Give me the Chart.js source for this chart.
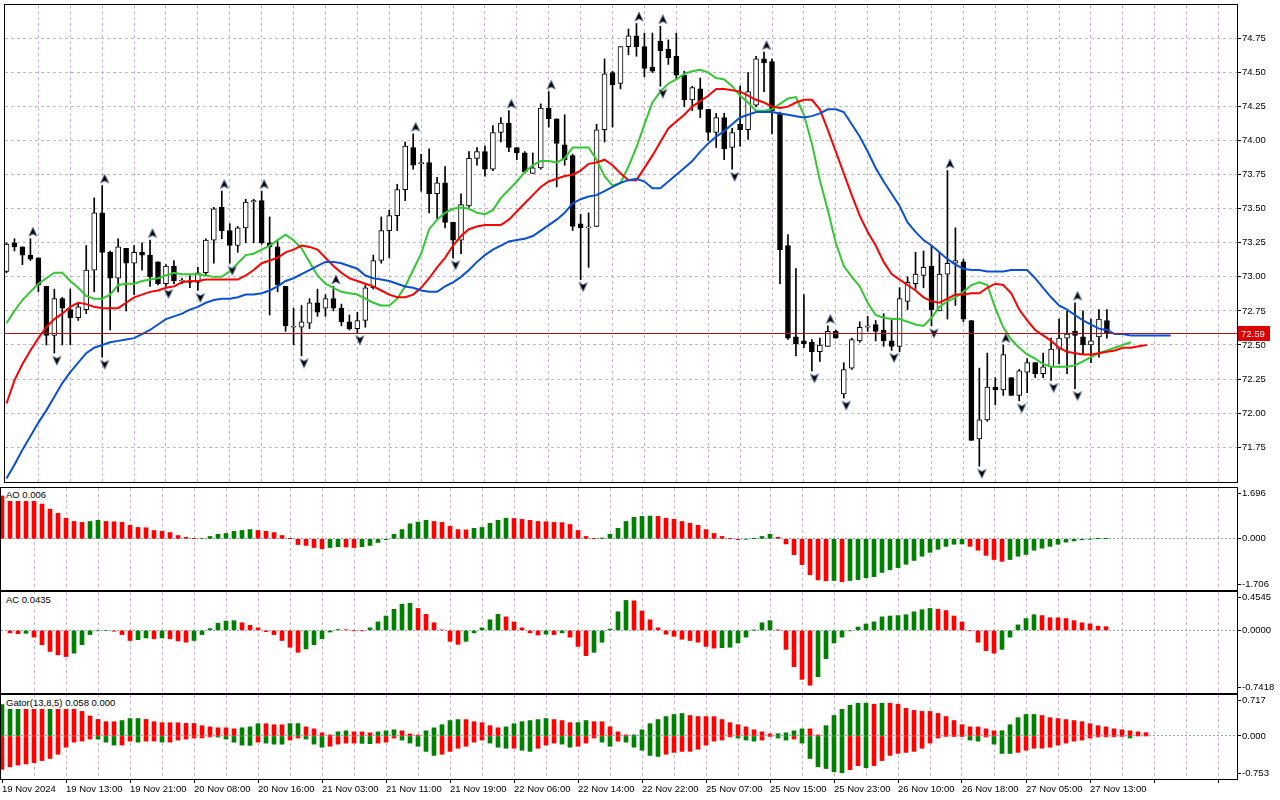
<!DOCTYPE html>
<html>
<head>
<meta charset="utf-8">
<script src="https://cdn.jsdelivr.net/npm/chart.js@4.4.1/dist/chart.umd.min.js"></script>
<style>
  html, body { margin: 0; padding: 0; background: #fff; }
  #wrap { position: relative; width: 1280px; height: 800px; overflow: hidden; }
  canvas { position: absolute; left: 0; }
  .tag { position: absolute; left: 5px; font: 9.5px 'Liberation Sans', sans-serif; line-height: 12px;
         background: #fff; color: #000; padding: 0 1px; white-space: nowrap; }
</style>
</head>
<body>
<div id="wrap">
  <canvas id="cMain" width="1280" height="487" style="top:0"></canvas>
  <canvas id="cAO" width="1280" height="104" style="top:487px"></canvas>
  <canvas id="cAC" width="1280" height="103" style="top:591px"></canvas>
  <canvas id="cGator" width="1280" height="106" style="top:694px"></canvas>
  <div class="tag" id="tagAO" style="top:489px"></div>
  <div class="tag" id="tagAC" style="top:594px"></div>
  <div class="tag" id="tagGator" style="top:697px"></div>
</div>
<script>
// H1 candles, 19 Nov 2024 -> 27 Nov 2024
const opens = [73.04,73.25,73.22,73.16,73.14,72.93,72.57,72.84,72.76,72.70,72.76,73.05,73.47,73.18,72.99,73.21,73.10,73.18,73.16,73.11,
  72.95,73.08,72.97,72.97,72.96,73.03,73.27,73.51,73.34,73.23,73.36,73.55,73.56,73.25,73.22,72.93,72.63,72.63,72.66,72.81,
  72.77,72.84,72.77,72.67,72.62,72.68,72.92,73.12,73.34,73.45,73.64,73.95,73.83,73.84,73.61,73.69,73.40,73.27,73.52,73.87,
  73.92,73.79,74.06,74.13,73.95,73.91,73.76,73.80,74.24,74.16,73.97,73.89,73.39,73.36,73.37,74.08,74.50,74.42,74.69,74.77,
  74.69,74.54,74.73,74.67,74.62,74.48,74.30,74.38,74.23,74.06,74.17,73.95,74.12,74.08,74.26,74.60,74.58,74.20,73.23,72.56,
  72.53,72.52,72.45,72.49,72.60,72.14,72.33,72.53,72.63,72.65,72.61,72.53,72.49,72.82,72.95,73.01,73.08,72.75,73.02,73.10,
  73.11,72.68,71.81,71.95,72.19,72.17,72.26,72.13,72.30,72.37,72.29,72.34,72.47,72.55,72.60,72.56,72.50,72.56,72.68];
const highs = [73.25,73.28,73.22,73.28,73.14,72.93,72.91,72.85,72.91,72.80,73.23,73.58,73.67,73.19,73.28,73.21,73.23,73.25,73.27,73.11,
  73.09,73.12,72.99,73.01,73.07,73.28,73.51,73.63,73.39,73.37,73.57,73.57,73.63,73.44,73.26,72.93,72.77,72.79,72.84,72.91,
  72.87,72.93,72.80,72.72,72.74,72.94,73.16,73.44,73.49,73.68,73.99,74.05,73.90,73.94,73.73,73.81,73.40,73.61,73.92,73.95,
  73.96,74.11,74.17,74.22,73.95,73.92,73.91,74.27,74.36,74.16,74.19,73.90,73.46,73.47,74.12,74.60,74.51,74.69,74.82,74.86,
  74.79,74.79,74.84,74.74,74.79,74.51,74.40,74.46,74.23,74.20,74.20,74.09,74.40,74.50,74.62,74.65,74.60,74.21,73.31,73.06,
  72.87,72.54,72.55,72.64,72.61,72.37,72.55,72.67,72.71,72.68,72.73,72.68,72.92,73.00,73.18,73.19,73.23,73.18,73.78,73.36,
  73.13,72.68,72.33,72.44,72.26,72.50,72.26,72.32,72.40,72.37,72.44,72.55,72.69,72.75,72.81,72.75,72.69,72.76,72.76];
const lows = [73.03,73.19,73.09,73.12,72.89,72.50,72.44,72.50,72.50,72.68,72.73,72.89,72.41,72.61,72.89,72.75,72.87,73.05,72.93,72.94,
  72.93,72.95,72.95,72.92,72.90,73.01,73.10,73.28,73.10,73.18,73.25,73.25,73.24,72.72,72.89,72.60,72.50,72.42,72.62,72.71,
  72.71,72.75,72.64,72.61,72.59,72.63,72.91,73.10,73.14,73.34,73.56,73.79,73.63,73.47,73.43,73.36,73.14,73.17,73.51,73.82,
  73.74,73.78,73.99,73.92,73.86,73.76,73.76,73.79,74.10,73.66,73.82,73.34,72.98,73.07,73.37,73.99,74.10,74.38,74.63,74.62,
  74.47,74.50,74.40,74.56,74.45,74.25,74.22,74.17,74.00,73.95,73.86,73.79,73.96,74.01,74.25,74.36,74.05,72.95,72.54,72.42,
  72.48,72.31,72.38,72.49,72.55,72.11,72.32,72.52,72.60,72.53,72.49,72.46,72.45,72.76,72.91,72.92,72.64,72.75,72.69,72.79,
  72.67,71.80,71.61,71.94,72.06,72.13,72.13,72.09,72.15,72.26,72.26,72.24,72.36,72.29,72.18,72.43,72.37,72.41,72.55];
const closes = [73.24,73.22,73.16,73.13,72.94,72.57,72.84,72.77,72.70,72.78,73.05,73.47,73.18,72.99,73.22,73.10,73.18,73.16,73.00,72.95,
  73.08,72.97,72.97,72.96,73.03,73.27,73.50,73.34,73.23,73.36,73.55,73.56,73.25,73.22,72.94,72.64,72.63,72.67,72.81,72.74,
  72.84,72.77,72.67,72.62,72.68,72.92,73.12,73.34,73.45,73.64,73.96,73.82,73.84,73.61,73.69,73.40,73.27,73.53,73.87,73.92,
  73.79,74.06,74.13,73.95,73.91,73.77,73.80,74.24,74.16,73.98,73.86,73.37,73.36,73.36,74.08,74.49,74.41,74.69,74.77,74.69,
  74.53,74.51,74.66,74.61,74.48,74.30,74.39,74.23,74.06,74.17,73.94,74.06,74.08,74.36,74.60,74.57,74.22,73.20,72.55,72.51,
  72.51,72.45,72.50,72.60,72.55,72.32,72.54,72.63,72.64,72.60,72.53,72.49,72.84,72.96,73.02,73.07,72.76,73.02,73.10,73.12,
  72.69,71.80,71.95,72.19,72.17,72.43,72.13,72.31,72.37,72.29,72.34,72.47,72.55,72.58,72.57,72.50,72.53,72.69,72.59];

// Alligator (already shifted forward: jaw +8, teeth +5, lips +3)
const jawLine = [71.52,71.62,71.73,71.83,71.93,72.02,72.12,72.22,72.30,72.37,72.44,72.48,72.50,72.52,72.53,72.54,72.55,72.58,72.61,72.65,
  72.69,72.71,72.73,72.76,72.78,72.81,72.83,72.84,72.84,72.85,72.87,72.87,72.88,72.90,72.93,72.97,72.99,73.02,73.05,73.08,
  73.11,73.11,73.10,73.08,73.06,73.01,72.99,72.98,72.97,72.95,72.93,72.92,72.90,72.89,72.89,72.93,72.96,73.00,73.05,73.11,
  73.16,73.20,73.23,73.26,73.27,73.28,73.30,73.34,73.38,73.42,73.47,73.54,73.57,73.59,73.60,73.63,73.66,73.69,73.71,73.72,
  73.70,73.65,73.65,73.70,73.75,73.80,73.85,73.92,73.98,74.03,74.07,74.12,74.17,74.19,74.21,74.21,74.21,74.20,74.19,74.18,
  74.17,74.18,74.20,74.23,74.23,74.21,74.12,74.03,73.92,73.80,73.70,73.61,73.52,73.40,73.33,73.27,73.23,73.18,73.13,73.09,
  73.06,73.05,73.05,73.04,73.04,73.04,73.05,73.05,73.05,72.99,72.92,72.85,72.79,72.76,72.72,72.68,72.65,72.62,72.61,72.58,
  72.58,72.57,72.57,72.57,72.57,72.57,72.57];
const teethLine = [72.07,72.24,72.36,72.46,72.55,72.63,72.69,72.73,72.78,72.81,72.80,72.78,72.77,72.77,72.77,72.81,72.85,72.87,72.89,72.90,
  72.92,72.93,72.96,72.97,72.97,72.98,72.98,72.98,72.98,72.98,73.01,73.05,73.10,73.12,73.14,73.18,73.20,73.23,73.22,73.20,
  73.14,73.08,73.03,72.99,72.97,72.95,72.93,72.90,72.87,72.85,72.85,72.87,72.92,72.99,73.07,73.14,73.23,73.30,73.35,73.37,
  73.38,73.38,73.38,73.42,73.48,73.54,73.60,73.66,73.70,73.72,73.74,73.75,73.78,73.83,73.84,73.86,73.82,73.76,73.71,73.71,
  73.80,73.89,73.99,74.09,74.14,74.19,74.25,74.29,74.33,74.38,74.38,74.37,74.36,74.33,74.30,74.28,74.25,74.24,74.25,74.28,
  74.30,74.30,74.23,74.08,73.92,73.76,73.60,73.45,73.33,73.23,73.11,73.02,72.98,72.94,72.90,72.85,72.82,72.81,72.84,72.87,
  72.87,72.88,72.88,72.92,72.95,72.94,72.88,72.76,72.68,72.61,72.57,72.53,72.48,72.45,72.44,72.43,72.43,72.44,72.45,72.46,
  72.48,72.48,72.49,72.50];
const lipsLine = [72.66,72.75,72.83,72.89,72.95,72.99,73.03,73.03,72.97,72.92,72.86,72.84,72.84,72.87,72.94,72.95,72.95,72.97,72.98,72.99,
  73.01,73.03,73.02,73.02,73.02,73.01,73.00,73.00,73.04,73.10,73.16,73.17,73.20,73.23,73.27,73.31,73.27,73.21,73.11,73.01,
  72.95,72.92,72.89,72.88,72.87,72.84,72.81,72.79,72.79,72.84,72.93,73.05,73.17,73.35,73.42,73.47,73.50,73.51,73.50,73.47,
  73.46,73.49,73.58,73.64,73.70,73.77,73.82,73.85,73.85,73.84,73.87,73.95,73.95,73.95,73.86,73.74,73.67,73.69,73.81,73.95,
  74.12,74.28,74.36,74.42,74.45,74.49,74.51,74.52,74.50,74.46,74.45,74.40,74.33,74.28,74.22,74.22,74.23,74.27,74.31,74.32,
  74.19,73.98,73.71,73.49,73.25,73.08,73.00,72.93,72.81,72.72,72.70,72.69,72.69,72.67,72.65,72.64,72.70,72.78,72.82,72.85,
  72.89,72.94,72.96,72.94,72.77,72.63,72.54,72.48,72.43,72.40,72.36,72.34,72.34,72.34,72.35,72.38,72.41,72.44,72.46,72.48,
  72.50,72.52];

// Fractal bars (index into candles)
const fractalUp = [3,12,18,27,32,41,51,63,68,79,82,95,103,118,125,134];
const fractalDown = [6,12,20,24,28,37,44,56,72,82,91,101,105,111,116,122,127,131,134];

// Awesome Oscillator
const aoValues = [1.43,1.40,1.36,1.31,1.25,1.16,0.99,0.85,0.69,0.58,0.55,0.58,0.62,0.58,0.57,0.55,0.45,0.38,0.37,0.28,
  0.25,0.21,0.11,0.05,0.01,0.015,0.08,0.15,0.18,0.25,0.28,0.31,0.28,0.25,0.21,0.11,0.005,-0.19,-0.22,-0.29,
  -0.33,-0.29,-0.26,-0.27,-0.29,-0.26,-0.22,-0.12,-0.03,0.15,0.31,0.50,0.56,0.62,0.58,0.55,0.42,0.31,0.30,0.35,
  0.38,0.52,0.62,0.69,0.68,0.65,0.62,0.58,0.57,0.55,0.54,0.48,0.28,0.08,0.01,0.03,0.15,0.35,0.58,0.72,
  0.75,0.76,0.75,0.69,0.65,0.58,0.52,0.45,0.31,0.18,0.08,0.01,-0.03,-0.01,0.005,0.08,0.15,0.05,-0.17,-0.53,
  -0.86,-1.20,-1.37,-1.40,-1.39,-1.43,-1.39,-1.36,-1.30,-1.26,-1.12,-1.03,-0.96,-0.85,-0.72,-0.58,-0.45,-0.35,-0.25,-0.18,
  -0.17,-0.25,-0.38,-0.55,-0.69,-0.75,-0.69,-0.58,-0.52,-0.38,-0.31,-0.25,-0.18,-0.11,-0.07,-0.03,-0.01,0.004,0.006];

// Accelerator Oscillator
const acValues = [null,-0.03,-0.04,-0.035,-0.08,-0.17,-0.25,-0.29,-0.31,-0.27,-0.17,-0.05,-0.005,0.0,-0.01,-0.05,-0.12,-0.11,-0.09,-0.10,
  -0.09,-0.10,-0.125,-0.14,-0.12,-0.05,0.02,0.085,0.11,0.115,0.09,0.06,0.03,-0.015,-0.05,-0.12,-0.20,-0.26,-0.22,-0.17,
  -0.10,-0.02,0.01,0.008,-0.003,-0.004,0.03,0.10,0.17,0.25,0.31,0.32,0.26,0.19,0.09,0.005,-0.13,-0.165,-0.13,-0.03,
  0.03,0.125,0.19,0.16,0.10,0.03,-0.03,-0.055,-0.045,-0.05,-0.03,-0.08,-0.19,-0.30,-0.26,-0.14,0.015,0.22,0.355,0.35,
  0.23,0.125,0.03,-0.045,-0.07,-0.105,-0.12,-0.14,-0.19,-0.21,-0.205,-0.20,-0.15,-0.08,0.002,0.09,0.115,0.003,-0.225,-0.43,
  -0.58,-0.65,-0.55,-0.335,-0.15,-0.08,-0.005,0.04,0.075,0.10,0.16,0.17,0.175,0.185,0.22,0.245,0.26,0.25,0.235,0.17,
  0.10,-0.005,-0.14,-0.24,-0.27,-0.225,-0.08,0.065,0.14,0.185,0.175,0.15,0.149,0.14,0.115,0.09,0.077,0.05,0.0435];

// Gator oscillator: upper |jaw - teeth|, lower |teeth - lips|
const gatorUp = [0.55,0.57,0.58,0.575,0.57,0.56,0.565,0.54,0.50,0.47,0.43,0.35,0.29,0.25,0.249,0.27,0.305,0.306,0.29,0.25,
  0.233,0.232,0.231,0.22,0.219,0.18,0.16,0.143,0.142,0.125,0.143,0.16,0.215,0.214,0.197,0.196,0.216,0.217,0.16,0.125,
  0.054,0.018,0.072,0.09,0.072,0.071,0.054,0.072,0.09,0.108,0.09,0.036,0.018,0.09,0.143,0.197,0.27,0.287,0.286,0.25,
  0.233,0.18,0.143,0.16,0.215,0.25,0.27,0.287,0.305,0.287,0.27,0.233,0.234,0.27,0.25,0.249,0.16,0.072,0.018,0.02,
  0.108,0.215,0.287,0.34,0.376,0.394,0.358,0.34,0.339,0.338,0.287,0.233,0.197,0.16,0.108,0.072,0.036,0.04,0.054,0.09,
  0.125,0.124,0.018,0.18,0.358,0.466,0.538,0.573,0.574,0.556,0.574,0.573,0.556,0.484,0.448,0.43,0.429,0.394,0.34,0.27,
  0.197,0.16,0.159,0.125,0.09,0.091,0.197,0.32,0.376,0.377,0.358,0.32,0.305,0.287,0.27,0.25,0.215,0.18,0.16,0.125,
  0.108,0.09,0.072,0.058];
const gatorDown = [0.585,0.54,0.51,0.49,0.466,0.43,0.394,0.32,0.197,0.108,0.09,0.054,0.055,0.108,0.16,0.159,0.09,0.108,0.09,0.089,
  0.108,0.107,0.072,0.054,0.036,0.035,0.018,0.019,0.054,0.108,0.16,0.165,0.108,0.125,0.143,0.144,0.072,0.036,0.054,0.143,
  0.197,0.18,0.143,0.125,0.124,0.13,0.135,0.125,0.108,0.036,0.072,0.125,0.18,0.27,0.34,0.32,0.27,0.215,0.18,0.108,
  0.072,0.125,0.197,0.215,0.214,0.25,0.27,0.215,0.16,0.125,0.143,0.197,0.18,0.125,0.036,0.108,0.18,0.09,0.108,0.197,
  0.25,0.34,0.358,0.32,0.287,0.27,0.269,0.233,0.16,0.09,0.072,0.018,0.036,0.072,0.09,0.072,0.01,0.036,0.072,0.054,
  0.125,0.394,0.54,0.57,0.627,0.645,0.59,0.52,0.556,0.519,0.43,0.34,0.305,0.287,0.27,0.215,0.125,0.036,0.01,0.005,
  0.004,0.072,0.09,0.018,0.143,0.305,0.306,0.287,0.25,0.215,0.214,0.197,0.16,0.125,0.09,0.072,0.036,0.018,0.017,0.016,
  0.01,0.036,0.0,0.0];

// Axis labels
const priceTicks = [71.75,72.00,72.25,72.50,72.75,73.00,73.25,73.50,73.75,74.00,74.25,74.50,74.75];
const timeLabels = ['19 Nov 2024','19 Nov 13:00','19 Nov 21:00','20 Nov 08:00','20 Nov 16:00','21 Nov 03:00',
  '21 Nov 11:00','21 Nov 19:00','22 Nov 06:00','22 Nov 14:00','22 Nov 22:00','25 Nov 07:00','25 Nov 15:00',
  '25 Nov 23:00','26 Nov 10:00','26 Nov 18:00','27 Nov 05:00','27 Nov 13:00'];
const aoScaleLabels = ['1.696','0.000','-1.706'];
const acScaleLabels = ['0.4545','0.0000','-0.7418'];
const gatorScaleLabels = ['0.717','0.000','-0.753'];

const GRID = '#c8b4c8';
const ZERO = '#98a4b8';
const UPC = '#008000';
const DNC = '#ff0000';
const BARS_PER_LABEL = 8;
const BARS_PER_GRID = 4;
const PX_PER_BAR = 8;
const AREA_W = 1236;

Chart.defaults.font.family = "'Liberation Sans', Arial, sans-serif";
Chart.defaults.font.size = 9.5;
Chart.defaults.color = '#000';

const gridTicks = [];
for (let v = 0; v <= 152; v += BARS_PER_GRID) gridTicks.push(v);

const framePlugin = {
  id: 'frame',
  afterDraw(chart) {
    const a = chart.chartArea, ctx = chart.ctx;
    ctx.save();
    ctx.strokeStyle = '#000';
    ctx.lineWidth = 1;
    ctx.strokeRect(a.left - 0.5, a.top - 0.5, a.right - a.left + 1, a.bottom - a.top + 1);
    ctx.restore();
  }
};

const priceTagPlugin = {
  id: 'priceTag',
  afterDatasetsDraw(chart) {
    const a = chart.chartArea, ctx = chart.ctx;
    const last = closes[closes.length - 1];
    const py = Math.round(chart.scales.y.getPixelForValue(last)) + 0.5;
    ctx.save();
    ctx.strokeStyle = '#b81010';
    ctx.lineWidth = 1;
    ctx.beginPath();
    ctx.moveTo(a.left, py);
    ctx.lineTo(a.right, py);
    ctx.stroke();
    ctx.fillStyle = '#dc0000';
    ctx.fillRect(a.right + 1, py - 7.5, 32, 15);
    ctx.fillStyle = '#fff';
    ctx.font = "9.5px 'Liberation Sans', Arial, sans-serif";
    ctx.textBaseline = 'middle';
    ctx.fillText(last.toFixed(2), a.right + 4, py + 0.5);
    ctx.restore();
  }
};

// fractal arrowhead, drawn a little right of the bar and clear of the wick
function arrowSprite(up) {
  const c = document.createElement('canvas');
  c.width = 17;
  c.height = 31;
  const g = c.getContext('2d');
  g.translate(11, up ? 8.5 : 23);
  if (!up) g.scale(1, -1);
  g.beginPath();
  g.moveTo(0, -4.5);
  g.lineTo(4.2, 4.5);
  g.lineTo(0, 2.3);
  g.lineTo(-4.2, 4.5);
  g.closePath();
  g.fillStyle = '#000';
  g.fill();
  g.strokeStyle = '#6a7fa8';
  g.lineWidth = 0.8;
  g.stroke();
  return c;
}

function xAxis(xMin, showLabels) {
  return {
    type: 'linear',
    min: xMin,
    max: xMin + AREA_W / PX_PER_BAR,
    offset: false,
    grid: {
      offset: false,
      color: c => (c.tick && c.tick.value === 0) ? 'rgba(0,0,0,0)' : GRID,
      lineWidth: 1,
      drawTicks: showLabels,
      tickLength: 4,
      tickBorderDash: [],
      tickColor: c => (c.tick && c.tick.value % BARS_PER_LABEL === 0) ? '#000' : 'rgba(0,0,0,0)'
    },
    border: { display: false, dash: [3, 3] },
    ticks: {
      display: showLabels,
      autoSkip: false,
      maxRotation: 0,
      align: 'start',
      padding: 1,
      callback: v => (v % BARS_PER_LABEL === 0 ? (timeLabels[v / BARS_PER_LABEL] || '') : '')
    },
    afterBuildTicks: s => { s.ticks = gridTicks.map(v => ({ value: v })); },
    afterFit: s => {
      s.height = showLabels ? 21 : 1;
      s.paddingLeft = 0; s.paddingRight = 0;
    }
  };
}

function baseOptions() {
  return {
    responsive: false,
    animation: false,
    devicePixelRatio: 1,
    events: [],
    layout: { padding: { left: 1, top: 1, right: 0, bottom: 0 } },
    plugins: { legend: { display: false }, tooltip: { enabled: false } }
  };
}

// ---------- main price panel ----------
const X_MAIN = -0.1875;
const mainOpts = baseOptions();
mainOpts.layout.padding.top = 2;
mainOpts.scales = {
  x: xAxis(X_MAIN, false),
  y: {
    position: 'right',
    min: 71.494,
    max: 74.996,
    grid: { color: GRID, tickLength: 4, tickColor: '#000', tickBorderDash: [] },
    border: { display: false, dash: [3, 3] },
    ticks: { padding: 1, callback: v => v.toFixed(2) },
    afterBuildTicks: s => { s.ticks = priceTicks.map(v => ({ value: v })); },
    afterFit: s => { s.width = 43; s.paddingTop = 0; s.paddingBottom = 0; }
  }
};

const lineDs = (vals, color, label) => ({
  type: 'line', label, data: vals.map((v, i) => ({ x: i, y: v })),
  borderColor: color, borderWidth: 2, pointRadius: 0, tension: 0, fill: false, order: 1
});

new Chart(document.getElementById('cMain'), {
  type: 'bar',
  data: {
    datasets: [
      {
        label: 'wicks',
        data: highs.map((h, i) => ({ x: i, y: [lows[i], h] })),
        backgroundColor: '#000', barThickness: 1, grouped: false, order: 4
      },
      {
        label: 'bodies',
        data: opens.map((o, i) => ({ x: i, y: [o, closes[i]] })),
        backgroundColor: c => (closes[c.dataIndex] >= opens[c.dataIndex] ? '#fff' : '#000'),
        borderColor: '#000', borderWidth: 1, borderSkipped: false,
        barThickness: 5, minBarLength: 1, grouped: false, order: 3
      },
      lineDs(jawLine, '#0a50d6', 'Jaw'),
      lineDs(teethLine, '#ff0000', 'Teeth'),
      lineDs(lipsLine, '#32c832', 'Lips'),
      {
        type: 'scatter', label: 'fractal up',
        data: fractalUp.map(i => ({ x: i, y: highs[i] })),
        pointStyle: arrowSprite(true), order: 0
      },
      {
        type: 'scatter', label: 'fractal down',
        data: fractalDown.map(i => ({ x: i, y: lows[i] })),
        pointStyle: arrowSprite(false), order: 0
      }
    ]
  },
  options: mainOpts,
  plugins: [priceTagPlugin, framePlugin]
});

// ---------- oscillator panels ----------
const X_SUB = -0.125;

function subChart(id, panelPx, scaleLabels, datasets, showTime) {
  const max = parseFloat(scaleLabels[0]);
  const min = parseFloat(scaleLabels[2]);
  const edge = 5.5 * (max - min) / panelPx;
  const opts = baseOptions();
  opts.scales = {
    x: xAxis(X_SUB, showTime),
    y: {
      position: 'right',
      min, max,
      grid: {
        color: c => (c.index === 1 ? ZERO : 'rgba(0,0,0,0)'),
        tickLength: 4, tickColor: '#000', tickBorderDash: []
      },
      border: { display: false, dash: [2, 2] },
      ticks: { padding: 1, callback: (v, idx) => scaleLabels[idx] },
      afterBuildTicks: s => { s.ticks = [{ value: max - edge }, { value: 0 }, { value: min + edge }]; },
      afterFit: s => { s.width = 43; s.paddingTop = 0; s.paddingBottom = 0; }
    }
  };
  new Chart(document.getElementById(id), {
    type: 'bar',
    data: { datasets },
    options: opts,
    plugins: [framePlugin]
  });
}

const trendColors = (vals, firstColor) => vals.map((v, i) => {
  if (i === 0 || vals[i - 1] === null || v === null) return firstColor;
  return v > vals[i - 1] ? UPC : DNC;
});

const histDs = (vals, colors, sign) => ({
  data: vals.map((v, i) => ({ x: i, y: v === null ? null : v * sign })),
  backgroundColor: colors, borderWidth: 0, barThickness: 4, grouped: false
});

subChart('cAO', 102, aoScaleLabels, [histDs(aoValues, trendColors(aoValues, DNC), 1)], false);
subChart('cAC', 101, acScaleLabels, [histDs(acValues, trendColors(acValues, DNC), 1)], false);
subChart('cGator', 84, gatorScaleLabels, [
  histDs(gatorUp, trendColors(gatorUp, UPC), 1),
  histDs(gatorDown, trendColors(gatorDown, DNC), -1)
], true);

document.getElementById('tagAO').textContent = 'AO ' + aoValues[aoValues.length - 1].toFixed(3);
document.getElementById('tagAC').textContent = 'AC ' + acValues[acValues.length - 1].toFixed(4);
document.getElementById('tagGator').textContent = 'Gator(13,8,5) ' + gatorUp[gatorUp.length - 1].toFixed(3) + ' ' +
  gatorDown[gatorDown.length - 1].toFixed(3);
</script>
</body>
</html>
